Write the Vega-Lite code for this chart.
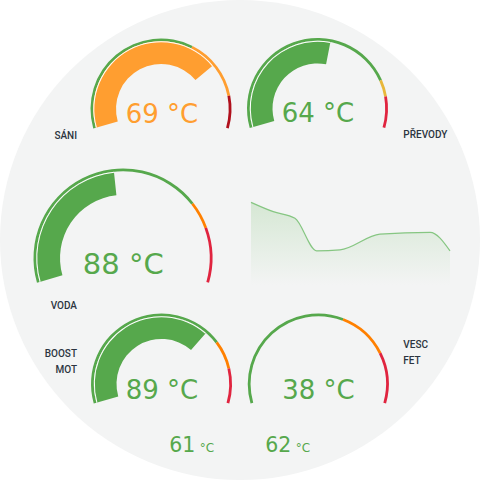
{
  "$schema": "https://vega.github.io/schema/vega-lite/v6.json",
  "width": 480,
  "height": 480,
  "autosize": {"type": "fit", "contains": "padding"},
  "padding": 0,
  "background": "#ffffff",
  "config": {"view": {"stroke": null}},
  "datasets": {
    "zones": [
      {"gauge": "sani", "cx": 161, "cy": 109, "start": -106, "end": 26.6, "level": "green"},
      {"gauge": "sani", "cx": 161, "cy": 109, "start": 26.6, "end": 79, "level": "orange"},
      {"gauge": "sani", "cx": 161, "cy": 109, "start": 79, "end": 106, "level": "darkred"},
      {"gauge": "prevody", "cx": 317.5, "cy": 108.5, "start": -106, "end": 66, "level": "green"},
      {"gauge": "prevody", "cx": 317.5, "cy": 108.5, "start": 66, "end": 80, "level": "yellow"},
      {"gauge": "prevody", "cx": 317.5, "cy": 108.5, "start": 80, "end": 106, "level": "red"},
      {"gauge": "voda", "cx": 123, "cy": 258, "start": -106, "end": 52, "level": "green"},
      {"gauge": "voda", "cx": 123, "cy": 258, "start": 52, "end": 70, "level": "amber"},
      {"gauge": "voda", "cx": 123, "cy": 258, "start": 70, "end": 106, "level": "red"},
      {"gauge": "boost", "cx": 161.5, "cy": 384, "start": -106, "end": 53, "level": "green"},
      {"gauge": "boost", "cx": 161.5, "cy": 384, "start": 53, "end": 77, "level": "amber"},
      {"gauge": "boost", "cx": 161.5, "cy": 384, "start": 77, "end": 106, "level": "red"},
      {"gauge": "vesc", "cx": 318.3, "cy": 384, "start": -106, "end": 21, "level": "green"},
      {"gauge": "vesc", "cx": 318.3, "cy": 384, "start": 21, "end": 63.5, "level": "amber"},
      {"gauge": "vesc", "cx": 318.3, "cy": 384, "start": 63.5, "end": 106, "level": "red"}
    ],
    "bars": [
      {"gauge": "sani", "cx": 161, "cy": 109, "start": -106, "end": 50, "level": "orange"},
      {"gauge": "prevody", "cx": 317.5, "cy": 108.5, "start": -106, "end": 11, "level": "green"},
      {"gauge": "voda", "cx": 123, "cy": 258, "start": -106, "end": -6, "level": "green"},
      {"gauge": "boost", "cx": 161.5, "cy": 384, "start": -106, "end": 41, "level": "green"}
    ],
    "readouts": [
      {"gauge": "sani", "cx": 162, "cy": 123, "text": "69 °C", "level": "orange"},
      {"gauge": "prevody", "cx": 318, "cy": 122, "text": "64 °C", "level": "green"},
      {"gauge": "voda", "cx": 123.3, "cy": 273.5, "text": "88 °C", "level": "green"},
      {"gauge": "boost", "cx": 162, "cy": 398.5, "text": "89 °C", "level": "green"},
      {"gauge": "vesc", "cx": 318.5, "cy": 398.5, "text": "38 °C", "level": "green"}
    ],
    "smallNumbers": [
      {"cx": 169.3, "cy": 451.7, "text": "61"},
      {"cx": 265.3, "cy": 451.7, "text": "62"}
    ],
    "smallUnits": [
      {"cx": 199.7, "cy": 451.7, "text": "°C"},
      {"cx": 295.7, "cy": 451.7, "text": "°C"}
    ],
    "labelsRight": [
      {"cx": 77, "cy": 139.3, "text": "SÁNI"},
      {"cx": 77, "cy": 309.3, "text": "VODA"},
      {"cx": 77, "cy": 356.7, "text": "BOOST"},
      {"cx": 77, "cy": 372.7, "text": "MOT"}
    ],
    "labelsLeft": [
      {"cx": 403.3, "cy": 138.3, "text": "PŘEVODY"},
      {"cx": 403.3, "cy": 347.7, "text": "VESC"},
      {"cx": 403.3, "cy": 364, "text": "FET"}
    ],
    "trend": [
      {"t": 0, "temp": 68.9},
      {"t": 1.12, "temp": 64.5},
      {"t": 2.21, "temp": 61.4},
      {"t": 3.3, "temp": 46.1},
      {"t": 4.47, "temp": 46.5},
      {"t": 6.48, "temp": 53.9},
      {"t": 9.0, "temp": 54.8},
      {"t": 10, "temp": 46.1}
    ]
  },
  "resolve": {"scale": {"x": "independent", "y": "independent"}},
  "layer": [
    {
      "data": {"values": [{"cx": 240, "cy": 240}]},
      "mark": {"type": "arc", "radius": 240, "theta": 0, "theta2": 6.2832, "color": "#f3f4f4"},
      "encoding": {
        "x": {"field": "cx", "type": "quantitative", "scale": {"domain": [0, 480], "range": [0, 480]}, "axis": null},
        "y": {"field": "cy", "type": "quantitative", "scale": {"domain": [0, 480], "range": [0, 480]}, "axis": null}
      }
    },
    {
      "data": {"name": "trend"},
      "mark": {"type": "area", "interpolate": "monotone",
        "line": {"color": "#86c682", "strokeWidth": 1.2},
        "color": {"gradient": "linear", "x1": 0, "y1": 0, "x2": 0, "y2": 1,
          "stops": [{"offset": 0, "color": "#c9e2c6"}, {"offset": 1, "color": "#f3f4f4"}]}},
      "encoding": {
        "x": {"field": "t", "type": "quantitative", "scale": {"domain": [0, 10], "range": [251, 450]}, "axis": null},
        "y": {"field": "temp", "type": "quantitative", "scale": {"domain": [30, 70], "range": [285, 200], "zero": false}, "axis": null},
        "y2": {"datum": 30}
      }
    },
    {
      "data": {"name": "zones"},
      "transform": [{"filter": "datum.gauge !== 'voda'"}],
      "mark": {"type": "arc", "radius": 70.5, "radius2": 67.7},
      "encoding": {
        "x": {"field": "cx", "type": "quantitative", "scale": {"domain": [0, 480], "range": [0, 480]}, "axis": null},
        "y": {"field": "cy", "type": "quantitative", "scale": {"domain": [0, 480], "range": [0, 480]}, "axis": null},
        "theta": {"field": "start", "type": "quantitative", "stack": null, "scale": {"domain": [-180, 180], "range": [-3.14159265, 3.14159265]}},
        "theta2": {"field": "end"},
        "color": {"field": "level", "type": "nominal", "legend": null,
          "scale": {"domain": ["green", "orange", "darkred", "yellow", "amber", "red"], "range": ["#56a84c", "#ff9e30", "#b0101c", "#e8b73a", "#ff8000", "#e0243f"]}}
      }
    },
    {
      "data": {"name": "zones"},
      "transform": [{"filter": "datum.gauge === 'voda'"}],
      "mark": {"type": "arc", "radius": 89.5, "radius2": 86.7},
      "encoding": {
        "x": {"field": "cx", "type": "quantitative", "scale": {"domain": [0, 480], "range": [0, 480]}, "axis": null},
        "y": {"field": "cy", "type": "quantitative", "scale": {"domain": [0, 480], "range": [0, 480]}, "axis": null},
        "theta": {"field": "start", "type": "quantitative", "stack": null, "scale": {"domain": [-180, 180], "range": [-3.14159265, 3.14159265]}},
        "theta2": {"field": "end"},
        "color": {"field": "level", "type": "nominal", "legend": null,
          "scale": {"domain": ["green", "orange", "darkred", "yellow", "amber", "red"], "range": ["#56a84c", "#ff9e30", "#b0101c", "#e8b73a", "#ff8000", "#e0243f"]}}
      }
    },
    {
      "data": {"name": "bars"},
      "transform": [{"filter": "datum.gauge !== 'voda'"}],
      "mark": {"type": "arc", "radius": 67.7, "radius2": 45},
      "encoding": {
        "x": {"field": "cx", "type": "quantitative", "scale": {"domain": [0, 480], "range": [0, 480]}, "axis": null},
        "y": {"field": "cy", "type": "quantitative", "scale": {"domain": [0, 480], "range": [0, 480]}, "axis": null},
        "theta": {"field": "start", "type": "quantitative", "stack": null, "scale": {"domain": [-180, 180], "range": [-3.14159265, 3.14159265]}},
        "theta2": {"field": "end"},
        "color": {"field": "level", "type": "nominal", "legend": null,
          "scale": {"domain": ["green", "orange", "darkred", "yellow", "amber", "red"], "range": ["#56a84c", "#ff9e30", "#b0101c", "#e8b73a", "#ff8000", "#e0243f"]}}
      }
    },
    {
      "data": {"name": "bars"},
      "transform": [{"filter": "datum.gauge === 'voda'"}],
      "mark": {"type": "arc", "radius": 86.7, "radius2": 63},
      "encoding": {
        "x": {"field": "cx", "type": "quantitative", "scale": {"domain": [0, 480], "range": [0, 480]}, "axis": null},
        "y": {"field": "cy", "type": "quantitative", "scale": {"domain": [0, 480], "range": [0, 480]}, "axis": null},
        "theta": {"field": "start", "type": "quantitative", "stack": null, "scale": {"domain": [-180, 180], "range": [-3.14159265, 3.14159265]}},
        "theta2": {"field": "end"},
        "color": {"field": "level", "type": "nominal", "legend": null,
          "scale": {"domain": ["green", "orange", "darkred", "yellow", "amber", "red"], "range": ["#56a84c", "#ff9e30", "#b0101c", "#e8b73a", "#ff8000", "#e0243f"]}}
      }
    },
    {
      "data": {"name": "bars"},
      "transform": [{"filter": "datum.gauge !== 'voda'"}],
      "mark": {"type": "arc", "radius": 67.7, "radius2": 66.7, "color": "#ffffff"},
      "encoding": {
        "x": {"field": "cx", "type": "quantitative", "scale": {"domain": [0, 480], "range": [0, 480]}, "axis": null},
        "y": {"field": "cy", "type": "quantitative", "scale": {"domain": [0, 480], "range": [0, 480]}, "axis": null},
        "theta": {"field": "start", "type": "quantitative", "stack": null, "scale": {"domain": [-180, 180], "range": [-3.14159265, 3.14159265]}},
        "theta2": {"field": "end"}
      }
    },
    {
      "data": {"name": "bars"},
      "transform": [{"filter": "datum.gauge === 'voda'"}],
      "mark": {"type": "arc", "radius": 86.7, "radius2": 85.7, "color": "#ffffff"},
      "encoding": {
        "x": {"field": "cx", "type": "quantitative", "scale": {"domain": [0, 480], "range": [0, 480]}, "axis": null},
        "y": {"field": "cy", "type": "quantitative", "scale": {"domain": [0, 480], "range": [0, 480]}, "axis": null},
        "theta": {"field": "start", "type": "quantitative", "stack": null, "scale": {"domain": [-180, 180], "range": [-3.14159265, 3.14159265]}},
        "theta2": {"field": "end"}
      }
    },
    {
      "data": {"name": "readouts"},
      "transform": [{"filter": "datum.gauge !== 'voda'"}],
      "mark": {"type": "text", "font": "DejaVu Sans", "fontSize": 26, "align": "center", "baseline": "alphabetic"},
      "encoding": {
        "x": {"field": "cx", "type": "quantitative", "scale": {"domain": [0, 480], "range": [0, 480]}, "axis": null},
        "y": {"field": "cy", "type": "quantitative", "scale": {"domain": [0, 480], "range": [0, 480]}, "axis": null},
        "text": {"field": "text"},
        "color": {"field": "level", "type": "nominal", "legend": null,
          "scale": {"domain": ["green", "orange", "darkred", "yellow", "amber", "red"], "range": ["#56a84c", "#ff9e30", "#b0101c", "#e8b73a", "#ff8000", "#e0243f"]}}
      }
    },
    {
      "data": {"name": "readouts"},
      "transform": [{"filter": "datum.gauge === 'voda'"}],
      "mark": {"type": "text", "font": "DejaVu Sans", "fontSize": 29, "align": "center", "baseline": "alphabetic"},
      "encoding": {
        "x": {"field": "cx", "type": "quantitative", "scale": {"domain": [0, 480], "range": [0, 480]}, "axis": null},
        "y": {"field": "cy", "type": "quantitative", "scale": {"domain": [0, 480], "range": [0, 480]}, "axis": null},
        "text": {"field": "text"},
        "color": {"field": "level", "type": "nominal", "legend": null,
          "scale": {"domain": ["green", "orange", "darkred", "yellow", "amber", "red"], "range": ["#56a84c", "#ff9e30", "#b0101c", "#e8b73a", "#ff8000", "#e0243f"]}}
      }
    },
    {
      "data": {"name": "smallNumbers"},
      "mark": {"type": "text", "font": "DejaVu Sans", "fontSize": 20.5, "align": "left", "baseline": "alphabetic", "color": "#56a84c"},
      "encoding": {
        "x": {"field": "cx", "type": "quantitative", "scale": {"domain": [0, 480], "range": [0, 480]}, "axis": null},
        "y": {"field": "cy", "type": "quantitative", "scale": {"domain": [0, 480], "range": [0, 480]}, "axis": null},
        "text": {"field": "text"}
      }
    },
    {
      "data": {"name": "smallUnits"},
      "mark": {"type": "text", "font": "DejaVu Sans", "fontSize": 12, "align": "left", "baseline": "alphabetic", "color": "#56a84c"},
      "encoding": {
        "x": {"field": "cx", "type": "quantitative", "scale": {"domain": [0, 480], "range": [0, 480]}, "axis": null},
        "y": {"field": "cy", "type": "quantitative", "scale": {"domain": [0, 480], "range": [0, 480]}, "axis": null},
        "text": {"field": "text"}
      }
    },
    {
      "data": {"name": "labelsRight"},
      "mark": {"type": "text", "font": "Roboto", "fontSize": 10, "fontWeight": 500, "align": "right", "baseline": "alphabetic", "color": "#2b3440"},
      "encoding": {
        "x": {"field": "cx", "type": "quantitative", "scale": {"domain": [0, 480], "range": [0, 480]}, "axis": null},
        "y": {"field": "cy", "type": "quantitative", "scale": {"domain": [0, 480], "range": [0, 480]}, "axis": null},
        "text": {"field": "text"}
      }
    },
    {
      "data": {"name": "labelsLeft"},
      "mark": {"type": "text", "font": "Roboto", "fontSize": 10, "fontWeight": 500, "align": "left", "baseline": "alphabetic", "color": "#2b3440"},
      "encoding": {
        "x": {"field": "cx", "type": "quantitative", "scale": {"domain": [0, 480], "range": [0, 480]}, "axis": null},
        "y": {"field": "cy", "type": "quantitative", "scale": {"domain": [0, 480], "range": [0, 480]}, "axis": null},
        "text": {"field": "text"}
      }
    }
  ]
}
